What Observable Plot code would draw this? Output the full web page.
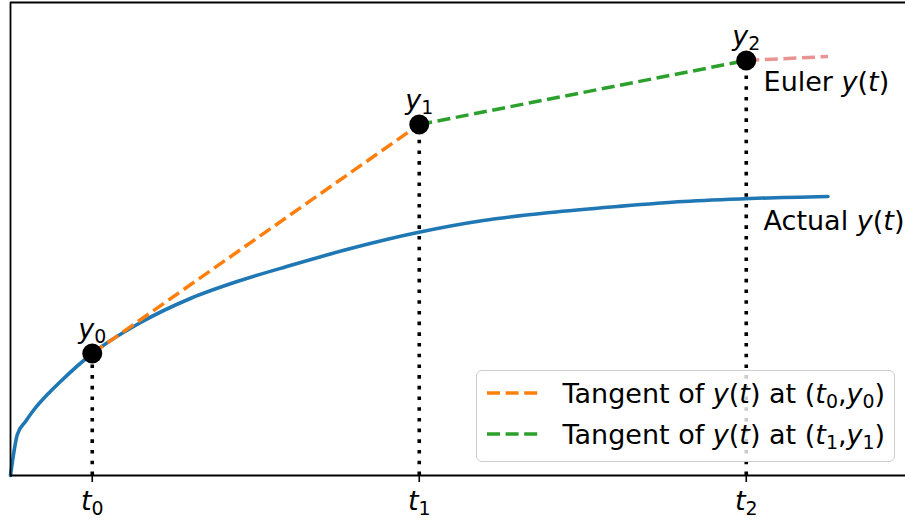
<!DOCTYPE html>
<html><head><meta charset="utf-8">
<script src="https://cdn.jsdelivr.net/npm/d3@7"></script>
<script src="https://cdn.jsdelivr.net/npm/@observablehq/plot@0.6"></script>
<style>
body{margin:0;background:#fff;font-family:"DejaVu Sans",sans-serif;}
#wrap{position:relative;width:905px;height:525px;}
.legend{position:absolute;left:476px;top:370px;width:419px;height:92px;box-sizing:border-box;border:1.5px solid #cccccc;border-radius:6px;background:rgba(255,255,255,0.8);font-size:27px;color:#000;}
.row{position:absolute;left:9.5px;display:flex;align-items:center;height:34px;white-space:nowrap;}
.row svg{margin-right:22px;flex:none;}
.sub{font-size:70%;position:relative;top:0.3em;font-style:normal;}
</style></head><body><div id="wrap"></div>
<script>
// Actual solution y(t)
const tCurve = [0, 0.021, 0.046, 0.070, 0.122, 0.153, 0.25, 0.398, 0.550, 0.703, 0.856, 1.040, 1.245, 1.446, 1.651, 1.856, 2.058, 2.263, 2.5];
const yCurve = [0, 0.41, 0.54, 0.65, 0.84, 0.94, 1.22, 1.53, 1.77, 1.95, 2.10, 2.27, 2.43, 2.55, 2.63, 2.69, 2.74, 2.77, 2.79];
// Euler steps
const tEuler = [0.25, 1.25, 2.25];
const yEuler = [1.22, 3.51, 4.15];
const eulerLabels = ["*y*_0", "*y*_1", "*y*_2"];
// continuation after the last step
const tExt = [2.25, 2.5];
const yExt = [4.15, 4.19];
// x tick labels
const tTicks = [0.25, 1.25, 2.25];
const tLabels = ["*t*_0", "*t*_1", "*t*_2"];
// curve annotations
const annoT = [2.303, 2.303];
const annoY = [3.93, 2.54];
const annoText = ["Euler *y*(*t*)", "Actual *y*(*t*)"];
const legendNames = ["Tangent of *y*(*t*) at (*t*_0,*y*_0)", "Tangent of *y*(*t*) at (*t*_1,*y*_1)"];
const colors = {actual: "#1f77b4", tan0: "#ff7f0e", tan1: "#2ca02c", ext: "#d62728"};

const curve = tCurve.map((t, i) => ({t, y: yCurve[i]}));
const euler = tEuler.map((t, i) => ({t, y: yEuler[i], label: eulerLabels[i]}));
const seg0 = euler.slice(0, 2);
const seg1 = euler.slice(1, 3);
const ext = tExt.map((t, i) => ({t, y: yExt[i]}));
const annos = annoT.map((t, i) => ({t, y: annoY[i], text: annoText[i]}));

const dash = "13,5.6";
const yTop = 4.73;
const plot = Plot.plot({
  width: 905, height: 525,
  marginLeft: 10, marginRight: 0, marginTop: 2, marginBottom: 50,
  x: {domain: [0, 895 / 327]},
  y: {domain: [0, yTop], axis: null},
  style: {fontFamily: "DejaVu Sans", fontSize: "27px", background: "white", color: "black"},
  marks: [
    Plot.line(curve, {x: "t", y: "y", stroke: colors.actual, strokeWidth: 3.6, curve: "monotone-x"}),
    Plot.ruleX(euler, {x: "t", y1: 0, y2: "y", stroke: "black", strokeWidth: 3.6, strokeDasharray: "3.6,7.1"}),
    Plot.line(seg0, {x: "t", y: "y", stroke: colors.tan0, strokeWidth: 3.5, strokeDasharray: dash, strokeLinecap: "butt"}),
    Plot.line(seg1, {x: "t", y: "y", stroke: colors.tan1, strokeWidth: 3.5, strokeDasharray: dash, strokeLinecap: "butt"}),
    Plot.line(ext, {x: "t", y: "y", stroke: colors.ext, strokeOpacity: 0.5, strokeWidth: 3.5, strokeDasharray: dash, strokeLinecap: "butt"}),
    Plot.dot(euler, {x: "t", y: "y", r: 10, fill: "black"}),
    Plot.text(euler, {x: "t", y: "y", text: "label", dy: -24, fontSize: 27}),
    Plot.text(annos, {x: "t", y: "y", text: "text", textAnchor: "start", fontSize: 27}),
    Plot.ruleY([0], {stroke: "black", strokeWidth: 1.8}),
    Plot.ruleY([yTop], {stroke: "black", strokeWidth: 1.8}),
    Plot.ruleX([0], {stroke: "black", strokeWidth: 1.8}),
    Plot.axisX({ticks: tTicks, tickFormat: d => tLabels[tTicks.indexOf(d)], tickSize: 7, tickPadding: 8, strokeWidth: 1.6, label: null, fontSize: 27})
  ]
});

// render simple markup: *x* italic, _c subscript
function parse(s) {
  const segs = []; let italic = false, i = 0;
  while (i < s.length) {
    const c = s[i];
    if (c === "*") { italic = !italic; i++; continue; }
    if (c === "_") { segs.push({text: s[i + 1], italic: false, sub: true}); i += 2; continue; }
    const last = segs[segs.length - 1];
    if (last && !last.sub && last.italic === italic) last.text += c;
    else segs.push({text: c, italic, sub: false});
    i++;
  }
  return segs;
}
d3.select(plot).selectAll("text").each(function() {
  const s = this.textContent;
  if (!/[*_]/.test(s)) return;
  const el = d3.select(this);
  el.text(null);
  let shifted = false;
  for (const seg of parse(s)) {
    const ts = el.append("tspan").text(seg.text);
    if (seg.italic) ts.attr("font-style", "italic");
    if (seg.sub) { ts.attr("font-size", "0.7em"); if (!shifted) { ts.attr("dy", 5); shifted = true; } }
    else if (shifted) { ts.attr("dy", -5); shifted = false; }
  }
});

const wrap = document.getElementById("wrap");
wrap.appendChild(plot);

function toHTML(s) {
  return parse(s).map(seg => seg.sub ? `<span class="sub">${seg.text}</span>` : seg.italic ? `<i>${seg.text}</i>` : seg.text.replace(/ /g, "&nbsp;")).join("");
}
const legend = document.createElement("div");
legend.className = "legend";
const legendColors = [colors.tan0, colors.tan1];
legendNames.forEach((name, i) => {
  const row = document.createElement("div");
  row.className = "row";
  row.style.top = (5 + i * 41) + "px";
  row.innerHTML = `<svg width="54" height="10"><line x1="0" x2="54" y1="5" y2="5" stroke="${legendColors[i]}" stroke-width="3.5" stroke-dasharray="${dash}"/></svg><span>${toHTML(name)}</span>`;
  legend.appendChild(row);
});
wrap.appendChild(legend);
</script>
</body></html>
